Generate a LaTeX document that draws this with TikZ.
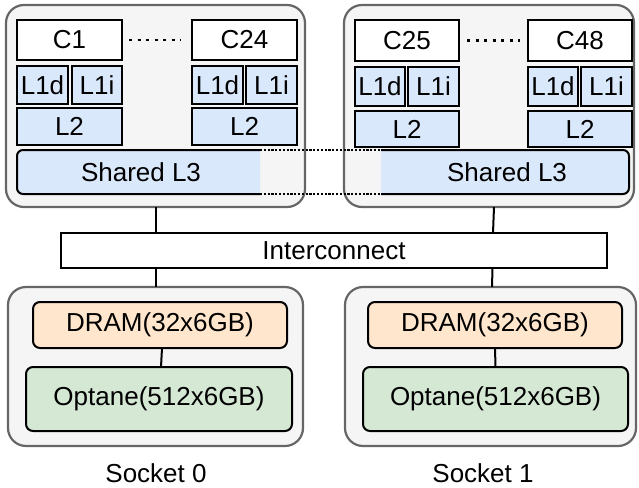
\documentclass[tikz,border=0pt]{standalone}
\usepackage{fontspec}
\setmainfont{Liberation Sans}
\definecolor{sockfill}{HTML}{F5F5F5}
\definecolor{sockdraw}{HTML}{666666}
\definecolor{cachefill}{HTML}{DAE8FC}
\definecolor{dramfill}{HTML}{FFE6CC}
\definecolor{optfill}{HTML}{D5E8D4}
\newcommand{\mybox}[7]{\node[#2, minimum width={(#5-#3)*1pt}, minimum height={(#6-#4)*1pt}] (#1) at ({(#3+#5)/2},{(#4+#6)/2}) {#7};}
\begin{document}
\begin{tikzpicture}[x=1pt,y=-1pt,
  every node/.style={inner sep=0pt, outer sep=0pt, font=\fontsize{26}{30}\selectfont},
  socket/.style={draw=sockdraw, fill=sockfill, line width=2.2pt, rounded corners=18pt},
  core/.style={draw=black, fill=white, line width=2pt},
  cache/.style={draw=black, fill=cachefill, line width=2pt},
  l3shape/.style={draw=black, fill=cachefill, line width=2pt, rounded corners=6pt},
  dram/.style={draw=black, fill=dramfill, line width=2pt, rounded corners=7pt},
  optane/.style={draw=black, fill=optfill, line width=2pt, rounded corners=7pt},
  icbox/.style={draw=black, fill=white, line width=2pt},
  conn/.style={draw=black, line width=2pt},
  coredots/.style={draw=black, line width=2.8pt, dash pattern=on 3pt off 5.5pt},
  l3dots/.style={draw=black, line width=2.6pt, dash pattern=on 2.2pt off 1.6pt}]
\useasboundingbox (0,0) rectangle (639,487);
% sockets
\mybox{s0top}{socket}{6}{5}{305}{207}{}
\mybox{s1top}{socket}{344}{5}{634}{207}{}
\mybox{s0bot}{socket}{8}{287}{303}{446}{}
\mybox{s1bot}{socket}{345}{287}{636}{446}{}
% socket 0 cores
\mybox{c1}{core}{17}{20}{122}{60}{C1}
\mybox{c24}{core}{192}{20}{297}{60}{C24}
\mybox{l1d1}{cache}{17}{66}{68}{104}{L1d}
\mybox{l1i1}{cache}{72}{66}{122}{104}{L1i}
\mybox{l1d24}{cache}{192}{66}{243}{104}{L1d}
\mybox{l1i24}{cache}{246}{66}{297}{104}{L1i}
\mybox{l2a}{cache}{17}{108}{122}{145}{L2}
\mybox{l2b}{cache}{192}{108}{297}{145}{L2}
% socket 1 cores
\mybox{c25}{core}{355}{20}{459}{61}{C25}
\mybox{c48}{core}{528}{20}{632}{61}{C48}
\mybox{l1d25}{cache}{355}{67}{405}{106}{L1d}
\mybox{l1i25}{cache}{408}{67}{459}{106}{L1i}
\mybox{l1d48}{cache}{528}{67}{578}{106}{L1d}
\mybox{l1i48}{cache}{581}{67}{632}{106}{L1i}
\mybox{l2c}{cache}{355}{111}{459}{147}{L2}
\mybox{l2d}{cache}{528}{111}{632}{147}{L2}
% dots between cores
\draw[coredots] ([xshift=7pt]c1.east) -- ([xshift=-11pt]c24.west);
\draw[coredots] ([xshift=8pt]c25.east) -- ([xshift=-8pt]c48.west);
% shared L3
\path[l3shape] (260,150) -- (17,150) -- (17,194) -- (260,194);
\path[l3shape] (381,150) -- (629,150) -- (629,194) -- (381,194);
\mybox{l3a}{}{17}{150}{260}{194}{\hspace*{5pt}Shared L3}
\mybox{l3b}{}{381}{150}{629}{194}{Shared L3\hspace*{-4pt}}
\draw[l3dots] (l3a.north east) -- (l3b.north west);
\draw[l3dots] (l3a.south east) -- (l3b.south west);
% interconnect
\mybox{ic}{icbox}{61}{233}{607}{268}{Interconnect}
\draw[conn] ([xshift=0.5pt]s0top.south) -- ([xshift=0.5pt]s0top.south |- ic.north);
\draw[conn] ([xshift=5pt]s1top.south) -- ([xshift=4pt]s1top.south |- ic.north);
\draw[conn] ([xshift=0.5pt]s0bot.north |- ic.south) -- ([xshift=0.5pt]s0bot.north);
\draw[conn] ([xshift=2pt]s1bot.north |- ic.south) -- ([xshift=1.5pt]s1bot.north);
% memory
\mybox{d0}{dram}{33}{302}{287}{348}{DRAM(32x6GB)}
\mybox{o0}{optane}{26}{367}{292}{431}{Optane(512x6GB)}
\mybox{d1}{dram}{368}{302}{622}{348}{DRAM(32x6GB)}
\mybox{o1}{optane}{363}{367}{628}{431}{Optane(512x6GB)}
\draw[conn] ([xshift=2pt]d0.south) -- ([xshift=2pt]o0.north);
\draw[conn] (d1.south) -- (o1.north);
% labels
\node (lab0) at (156,473) {Socket 0};
\node (lab1) at (483,473) {Socket 1};
\end{tikzpicture}
\end{document}
